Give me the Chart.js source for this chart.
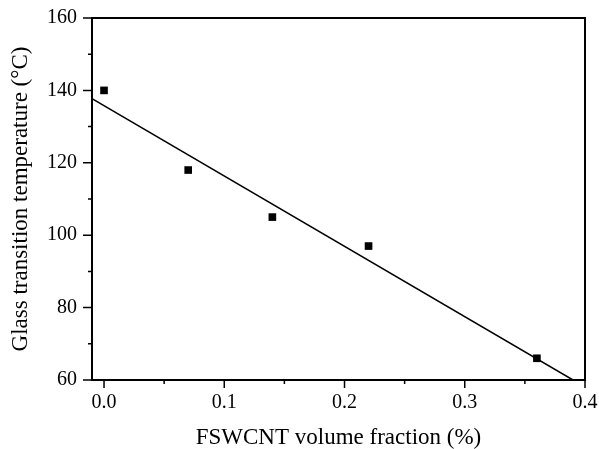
<!DOCTYPE html>
<html>
<head>
<meta charset="utf-8">
<script src="https://cdn.jsdelivr.net/npm/chart.js@4"></script>
<style>
  html, body { margin: 0; padding: 0; background: #fff; }
  #wrap { width: 599px; height: 449px; }
</style>
</head>
<body>
<div id="wrap"><canvas id="tgChart" width="599" height="449"></canvas></div>
<script>
// data
const volFraction = [0, 0.07, 0.14, 0.22, 0.36];
const tgValues = [140, 118, 105, 97, 66];
// linear fit, endpoints as seen in the plot
const fitX = [-0.01, 0.39];
const fitY = [137.7, 60];

const xTicks = [0, 0.1, 0.2, 0.3, 0.4];
const xMinor = [0.05, 0.15, 0.25, 0.35];
const yTicks = [60, 80, 100, 120, 140, 160];
const yMinor = [70, 90, 110, 130, 150];

const serif = '"Liberation Serif", "DejaVu Serif", serif';

// frame + outward tick marks (major and minor)
const framePlugin = {
    id: 'frame',
    afterDatasetsDraw(chart) {
        const { ctx, chartArea: a, scales } = chart;
        ctx.save();
        ctx.strokeStyle = '#000';
        ctx.lineWidth = 2;
        ctx.strokeRect(a.left, a.top, a.right - a.left, a.bottom - a.top);

        ctx.lineWidth = 1.5;
        ctx.beginPath();
        xTicks.forEach(v => {
            const px = scales.x.getPixelForValue(v);
            ctx.moveTo(px, a.bottom); ctx.lineTo(px, a.bottom + 8);
        });
        xMinor.forEach(v => {
            const px = scales.x.getPixelForValue(v);
            ctx.moveTo(px, a.bottom); ctx.lineTo(px, a.bottom + 4);
        });
        yTicks.forEach(v => {
            const py = scales.y.getPixelForValue(v);
            ctx.moveTo(a.left, py); ctx.lineTo(a.left - 9, py);
        });
        yMinor.forEach(v => {
            const py = scales.y.getPixelForValue(v);
            ctx.moveTo(a.left, py); ctx.lineTo(a.left - 4, py);
        });
        ctx.stroke();
        ctx.restore();
    }
};

const ctx = document.getElementById('tgChart');
new Chart(ctx, {
    type: 'scatter',
    data: {
        datasets: [
            {
                label: 'Tg',
                data: volFraction.map((x, i) => ({ x: x, y: tgValues[i] })),
                pointStyle: 'rect',
                pointRadius: 5.4,
                backgroundColor: '#000',
                borderWidth: 0,
                showLine: false
            },
            {
                label: 'fit',
                data: fitX.map((x, i) => ({ x: x, y: fitY[i] })),
                showLine: true,
                borderColor: '#000',
                borderWidth: 1.5,
                pointRadius: 0
            }
        ]
    },
    options: {
        responsive: false,
        animation: false,
        layout: { padding: { top: 18, right: 14, left: 0, bottom: 0 } },
        plugins: { legend: { display: false }, tooltip: { enabled: false } },
        scales: {
            x: {
                type: 'linear',
                min: -0.01,
                max: 0.4,
                afterBuildTicks: s => { s.ticks = xTicks.map(v => ({ value: v })); },
                afterFit: s => { s.height = 69; s.paddingLeft = 0; s.paddingRight = 0; },
                grid: { display: false, drawTicks: false },
                border: { display: false },
                ticks: {
                    color: '#000',
                    padding: 11,
                    font: { family: serif, size: 20 },
                    callback: v => v.toFixed(1)
                },
                title: {
                    display: true,
                    text: 'FSWCNT volume fraction (%)',
                    color: '#000',
                    font: { family: serif, size: 23, lineHeight: 1 },
                    padding: { top: 0, bottom: 0 }
                }
            },
            y: {
                min: 60,
                max: 160,
                afterBuildTicks: s => { s.ticks = yTicks.map(v => ({ value: v })); },
                afterFit: s => { s.width = 92; s.paddingTop = 0; s.paddingBottom = 0; },
                grid: { display: false, drawTicks: false },
                border: { display: false },
                ticks: {
                    color: '#000',
                    padding: 15,
                    font: { family: serif, size: 20 }
                },
                title: {
                    display: true,
                    text: 'Glass transition temperature (°C)',
                    color: '#000',
                    font: { family: serif, size: 23 },
                    padding: { top: 7, bottom: 0 }
                }
            }
        }
    },
    plugins: [framePlugin]
});
</script>
</body>
</html>
